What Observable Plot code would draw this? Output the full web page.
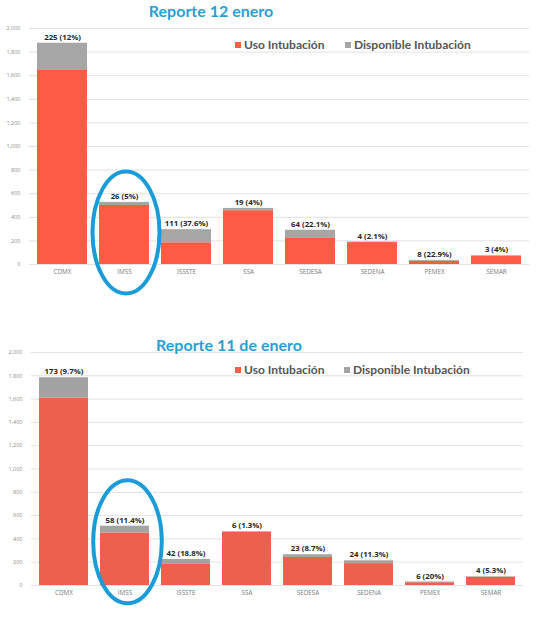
<!DOCTYPE html>
<html>
<head>
<meta charset="utf-8">
<script src="https://cdn.jsdelivr.net/npm/d3@7"></script>
<script src="https://cdn.jsdelivr.net/npm/@observablehq/plot@0.6"></script>
<style>
  body { margin: 0; background: #fff; }
  #wrap { position: relative; width: 545px; height: 620px; overflow: hidden; background: #fff; }
  #wrap svg { position: absolute; left: 0; }
  .titulo { position: absolute; transform: translateX(-50%); white-space: nowrap;
    font-family: Lato, sans-serif; font-weight: 700; font-size: 16px; line-height: 16px; color: #2a9fd6; }
  .ley { position: absolute; display: flex; align-items: center; white-space: nowrap;
    font-family: Lato, sans-serif; font-weight: 700; font-size: 12px; line-height: 12px; color: #555; }
  .sw { display: inline-block; width: 6px; height: 6px; margin-right: 3px; }
</style>
</head>
<body>
<div id="wrap"></div>
<script>
const instituciones = ["CDMX", "IMSS", "ISSSTE", "SSA", "SEDESA", "SEDENA", "PEMEX", "SEMAR"];
const series = ["Uso Intubación", "Disponible Intubación"];
const yTicks = d3.range(0, 2001, 200);

// Reporte 12 enero
const uso12  = [1650, 500, 184, 456, 226, 186, 27, 72];
const disp12 = [225, 26, 111, 19, 64, 4, 8, 3];
const pct12  = [12, 5, 37.6, 4, 22.1, 2.1, 22.9, 4];

// Reporte 11 de enero
const uso11  = [1610, 451, 181, 456, 241, 188, 24, 71];
const disp11 = [173, 58, 42, 6, 23, 24, 6, 4];
const pct11  = [9.7, 11.4, 18.8, 1.3, 8.7, 11.3, 20, 5.3];

const wrap = document.getElementById("wrap");

function makeChart(cfg) {
  const rows = [];
  instituciones.forEach((inst, i) => {
    rows.push({inst, serie: series[0], value: cfg.uso[i]});
    rows.push({inst, serie: series[1], value: cfg.disp[i]});
  });
  const etiquetas = instituciones.map((inst, i) => ({
    inst,
    total: cfg.uso[i] + cfg.disp[i],
    text: `${cfg.disp[i]} (${cfg.pct[i]}%)`
  }));

  const plot = Plot.plot({
    width: 545,
    height: cfg.height,
    marginTop: cfg.marginTop,
    marginBottom: cfg.marginBottom,
    marginLeft: cfg.marginLeft,
    marginRight: cfg.marginRight,
    style: {fontFamily: "'Open Sans', sans-serif", background: "transparent", overflow: "visible"},
    x: {domain: instituciones, paddingInner: cfg.paddingInner, paddingOuter: 0.075, label: null},
    y: {domain: [0, 2000], label: null},
    color: {domain: series, range: cfg.colors},
    marks: [
      Plot.gridY(yTicks, {stroke: "#e2e2e2", strokeOpacity: 1}),
      Plot.axisY(yTicks, {tickSize: 0, tickPadding: 9, tickFormat: d3.format(","),
        fontSize: 5.5, fill: "#8c8c8c", label: null}),
      Plot.axisX({tickSize: 0, tickPadding: 5, fontSize: 6.3, fill: "#7a7a7a", label: null}),
      Plot.barY(rows, {x: "inst", y: "value", fill: "serie"}),
      Plot.text(etiquetas, {x: "inst", y: "total", text: "text", dy: -6,
        fontSize: 7.8, fontWeight: 700, fill: "#262626"})
    ]
  });

  // ovalo azul alrededor de IMSS
  const xs = plot.scale("x"), ys = plot.scale("y");
  d3.select(plot).append("ellipse")
    .attr("cx", xs.apply("IMSS") + xs.bandwidth / 2 + cfg.ring.dx)
    .attr("cy", ys.apply(cfg.ring.cy))
    .attr("rx", xs.bandwidth * cfg.ring.rx)
    .attr("ry", ys.apply(0) - ys.apply(cfg.ring.ry))
    .attr("fill", "none")
    .attr("stroke", "#1b9bd7")
    .attr("stroke-width", 4);

  plot.style.top = cfg.top + "px";
  wrap.appendChild(plot);

  const t = document.createElement("div");
  t.className = "titulo";
  t.textContent = cfg.titulo;
  t.style.left = cfg.tituloX + "px";
  t.style.top = cfg.tituloY + "px";
  wrap.appendChild(t);

  series.forEach((s, i) => {
    const l = document.createElement("div");
    l.className = "ley";
    l.style.left = cfg.leyX[i] + "px";
    l.style.top = cfg.leyY + "px";
    l.innerHTML = `<span class="sw" style="background:${cfg.colors[i]}"></span>${s}`;
    wrap.appendChild(l);
  });
}

makeChart({
  uso: uso12, disp: disp12, pct: pct12,
  colors: ["#fe5b45", "#a6a6a6"],
  top: 0, height: 290, marginTop: 28, marginBottom: 26, marginLeft: 29, marginRight: 16,
  paddingInner: 0.2,
  ring: {dx: 2, cy: 267, ry: 517, rx: 0.67},
  titulo: "Reporte 12 enero", tituloX: 211, tituloY: 3,
  leyX: [235, 345], leyY: 39
});

makeChart({
  uso: uso11, disp: disp11, pct: pct11,
  colors: ["#ec604d", "#a3a3a3"],
  top: 310, height: 300, marginTop: 42, marginBottom: 25, marginLeft: 31, marginRight: 22,
  paddingInner: 0.19,
  ring: {dx: 3, cy: 372, ry: 528, rx: 0.7},
  titulo: "Reporte 11 de enero", tituloX: 229, tituloY: 337,
  leyX: [235, 344], leyY: 364
});
</script>
</body>
</html>
